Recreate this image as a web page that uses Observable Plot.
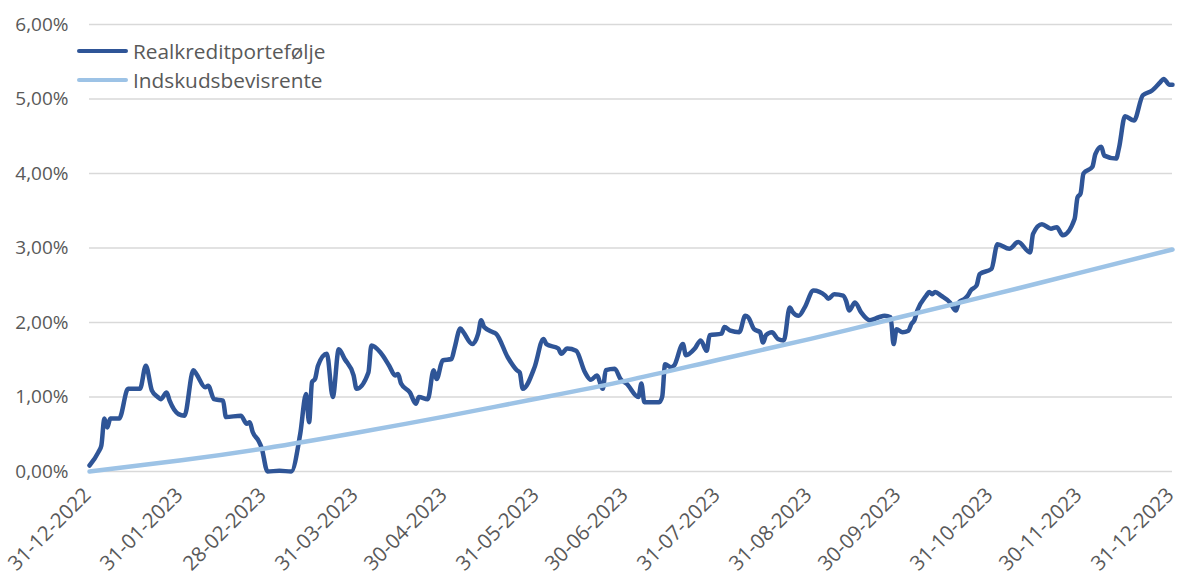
<!DOCTYPE html>
<html><head><meta charset="utf-8">
<script src="https://cdn.jsdelivr.net/npm/d3@7"></script>
<script src="https://cdn.jsdelivr.net/npm/@observablehq/plot@0.6"></script>
<style>
html,body{margin:0;padding:0;background:#fff;}
#wrap{position:relative;width:1179px;height:579px;font-family:"Open Sans",sans-serif;color:#595959;}
.lg{position:absolute;left:77px;display:flex;align-items:center;font-size:20.8px;line-height:20px;white-space:nowrap;}
.lg span.sw{display:inline-block;width:51px;height:4.5px;border-radius:2px;margin-right:5px;}
</style></head><body><div id="wrap"></div>
<script>
// x tick labels (dates)
const xTickLabels = ["31-12-2022","31-01-2023","28-02-2023","31-03-2023","30-04-2023","31-05-2023","30-06-2023","31-07-2023","31-08-2023","30-09-2023","31-10-2023","30-11-2023","31-12-2023"];
// y tick values (%)
const yTicks = [0,1,2,3,4,5,6];

// Realkreditportefølje: days since 31-12-2022 and cumulative return (%)
const realkreditDays = [0,3,4,5,6,7,10,13,17,19,21,23,24,26,27,30,32,35,36,39,40,42,45,46,51,53,54,55,57,58,60,64,68,71,73,74,75,76,77,80,82,84,86,89,90,94,95,98,101,103,104,105,108,110,111,114,116,117,119,122,123,125,126,129,131,132,133,136,137,141,144,145,146,150,153,154,158,159,161,164,167,169,171,173,174,177,179,181,185,186,187,192,193,194,196,197,200,201,204,206,208,209,213,214,216,219,221,222,224,226,227,228,230,232,234,236,237,239,241,244,248,249,251,254,255,256,258,260,263,266,268,270,271,272,274,276,277,278,279,282,283,284,285,287,290,292,293,295,296,297,299,300,304,306,310,313,317,318,321,324,326,328,332,333,334,335,338,339,341,342,346,347,349,352,355,358,361,362,364,365];
const realkreditValues = [0.08,0.26,0.35,0.71,0.59,0.71,0.71,1.11,1.11,1.42,1.09,1.00,0.97,1.06,0.95,0.77,0.75,1.36,1.31,1.13,1.15,0.97,0.95,0.73,0.75,0.64,0.66,0.53,0.41,0.32,0.00,0.01,0.00,0.50,1.04,0.66,1.20,1.24,1.42,1.58,1.00,1.64,1.51,1.29,1.11,1.33,1.69,1.60,1.42,1.29,1.31,1.18,1.06,0.91,1.00,0.97,1.36,1.24,1.49,1.51,1.65,1.92,1.87,1.71,1.85,2.03,1.94,1.87,1.85,1.53,1.36,1.33,1.11,1.40,1.78,1.71,1.65,1.58,1.65,1.62,1.33,1.23,1.29,1.11,1.36,1.38,1.24,1.18,1.00,1.18,0.93,0.93,1.00,1.44,1.40,1.42,1.71,1.56,1.65,1.76,1.62,1.83,1.85,1.94,1.89,1.87,2.09,2.07,1.91,1.87,1.73,1.83,1.87,1.78,1.76,2.20,2.14,2.09,2.20,2.43,2.36,2.32,2.38,2.36,2.29,2.16,2.27,2.14,2.03,2.07,2.09,2.07,1.71,1.91,1.87,1.89,1.98,2.03,2.16,2.36,2.41,2.38,2.41,2.36,2.27,2.16,2.27,2.32,2.36,2.43,2.50,2.65,2.72,3.05,2.99,3.08,2.94,3.19,3.32,3.26,3.28,3.17,3.39,3.68,3.73,4.00,4.09,4.26,4.36,4.24,4.20,4.35,4.77,4.71,5.05,5.11,5.23,5.27,5.19,5.19];

// Indskudsbevisrente: days since 31-12-2022 and cumulative return (%)
const indskudDays = [0,31,59,90,120,151,181,212,243,273,304,334,365];
const indskudValues = [0,0.15,0.31,0.52,0.74,0.98,1.22,1.50,1.78,2.07,2.37,2.67,2.98];

const seriesNames = ["Realkreditportefølje","Indskudsbevisrente"];
const seriesColors = ["#2F5597","#9DC3E6"];

const parse = d3.utcParse("%d-%m-%Y");
const start = parse(xTickLabels[0]);
const dayToDate = d => d3.utcDay.offset(start, d);
const realkredit = realkreditDays.map((d,i)=>({date:dayToDate(d), value:realkreditValues[i]}));
const indskud = indskudDays.map((d,i)=>({date:dayToDate(d), value:indskudValues[i]}));
const xTicks = xTickLabels.map(parse);

const chart = Plot.plot({
  width:1179, height:579,
  marginLeft:89, marginRight:7, marginTop:24, marginBottom:108,
  style:{fontFamily:'"Open Sans", sans-serif', fontSize:"19px", color:"#595959", background:"#fff", overflow:"visible"},
  x:{type:"utc", domain:[xTicks[0], xTicks[xTicks.length-1]]},
  y:{domain:[0,6]},
  marks:[
    Plot.gridY(yTicks, {stroke:"#d9d9d9", strokeOpacity:1, strokeWidth:1.5}),
    Plot.axisY(yTicks, {tickSize:0, tickPadding:21, fill:"#595959", label:null,
      tickFormat: v => v.toFixed(2).replace(".", ",") + "%"}),
    Plot.axisX(xTicks, {tickSize:0, tickPadding:4, tickRotate:-45, fill:"#595959", label:null, fontSize:20.5, dx:-2, dy:16,
      tickFormat: d3.utcFormat("%d-%m-%Y")}),
    Plot.line(realkredit, {x:"date", y:"value", stroke:seriesColors[0], strokeWidth:4.5, curve:"monotone-x"}),
    Plot.line(indskud, {x:"date", y:"value", stroke:seriesColors[1], strokeWidth:4.5, curve:"natural"})
  ]
});
const wrap = document.getElementById("wrap");
wrap.appendChild(chart);
seriesNames.forEach((n,i)=>{
  const el = document.createElement("div");
  el.className = "lg";
  el.style.top = (41 + i*29) + "px";
  el.innerHTML = `<span class="sw" style="background:${seriesColors[i]}"></span><span>${n}</span>`;
  wrap.appendChild(el);
});
</script>
</body></html>
